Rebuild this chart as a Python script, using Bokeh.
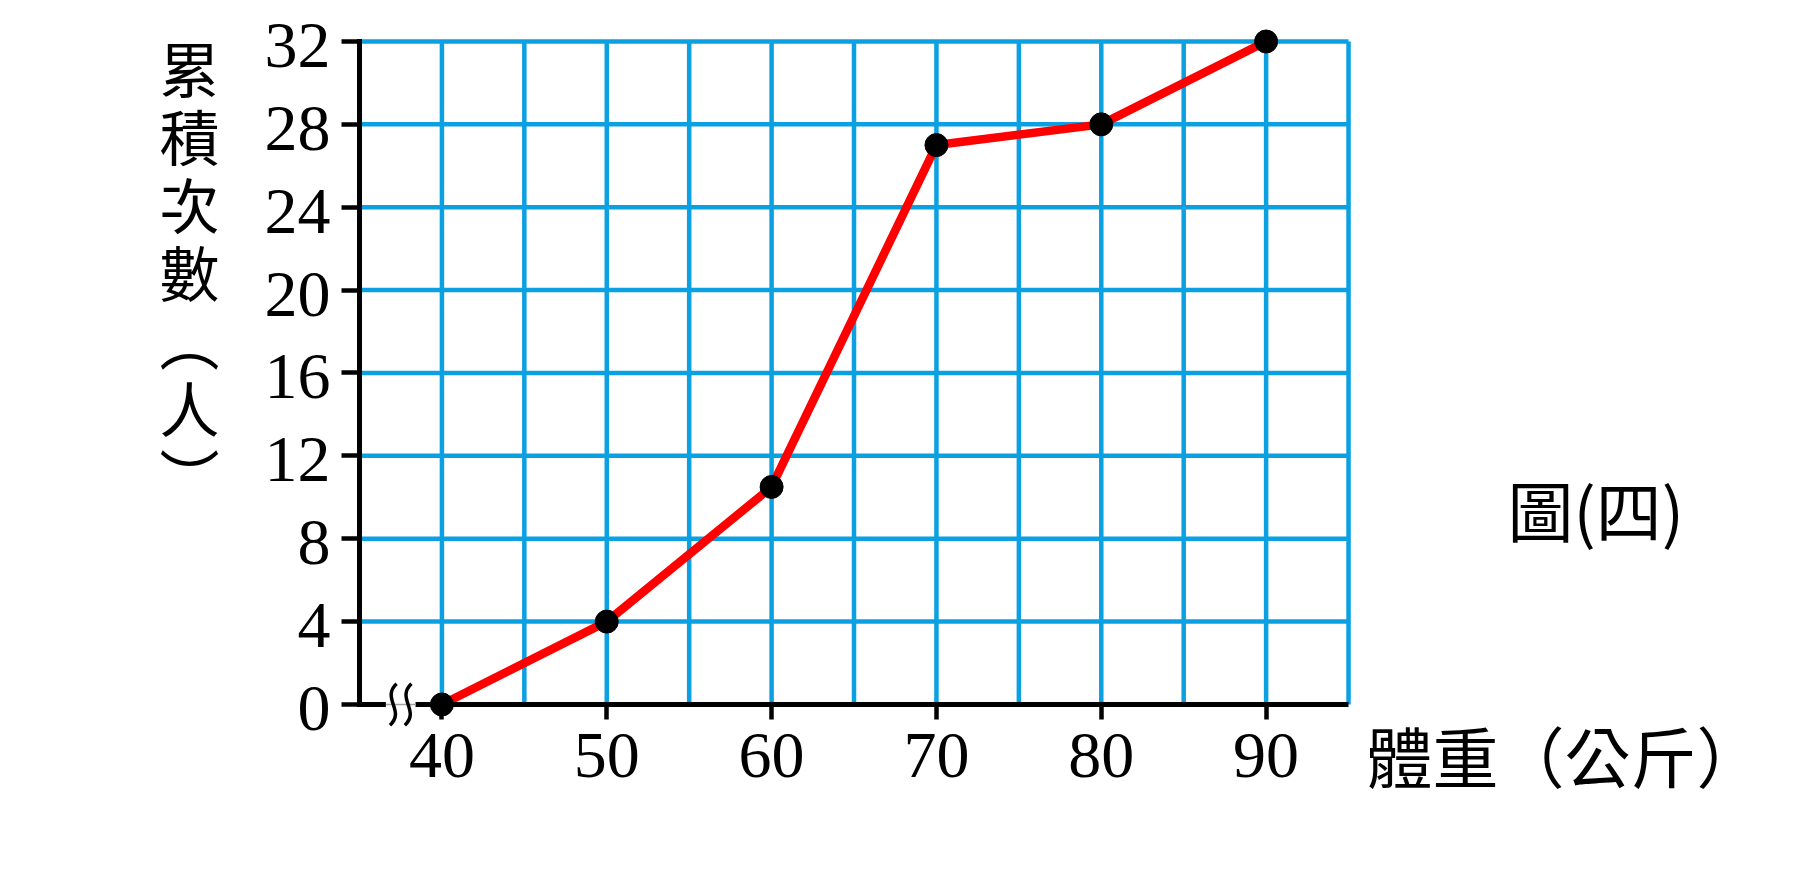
from bokeh.plotting import figure
from bokeh.models import Range1d, LinearAxis, FixedTicker, LabelSet, Label, ColumnDataSource
from bokeh.embed import file_html
from bokeh.resources import INLINE
from bokeh.core.properties import value

# ---- data ----
weights = [40, 50, 60, 70, 80, 90]
cum_counts = [0, 4, 10.5, 27, 28, 32]
x_ticks = [40, 50, 60, 70, 80, 90]
x_tick_labels = ["40", "50", "60", "70", "80", "90"]
x_grid = [40, 45, 50, 55, 60, 65, 70, 75, 80, 85, 90, 95]
y_ticks = [0, 4, 8, 12, 16, 20, 24, 28, 32]
y_tick_labels = ["0", "4", "8", "12", "16", "20", "24", "28", "32"]
x_title = "體重（公斤）"
y_title = "累積次數︵人︶"
fig_caption = "圖(四)"

X_MIN, X_MAX = 35, 95
Y_MIN, Y_MAX = 0, 32
break_x = [37.05, 37.95]

GRID = "#0BA0E2"
SERIF = "Liberation Serif"
CJK = "Noto Sans CJK TC"

# the frame covers the whole canvas so nothing is clipped
p = figure(x_range=Range1d(13.221, 121.448), y_range=Range1d(-7.240, 33.978),
           width=1784, height=854, min_border=0,
           x_axis_type=None, y_axis_type=None,
           output_backend="svg", toolbar_location=None)
p.outline_line_color = None
p.background_fill_color = "white"
p.border_fill_color = "white"

# grid
p.segment(x0=x_grid, y0=[Y_MIN] * len(x_grid), x1=x_grid, y1=[Y_MAX] * len(x_grid),
          line_color=GRID, line_width=4.5)
hy = y_ticks[1:]
p.segment(x0=[X_MIN] * len(hy), y0=hy, x1=[X_MAX] * len(hy), y1=hy,
          line_color=GRID, line_width=4.5)

# axes
xaxis = LinearAxis(fixed_location=Y_MIN, bounds=(X_MIN, X_MAX), ticker=FixedTicker(ticks=x_ticks),
                   major_label_overrides={t: s for t, s in zip(x_ticks, x_tick_labels)})
xaxis.axis_line_width = 5
xaxis.axis_line_color = "black"
xaxis.major_tick_line_width = 4.5
xaxis.major_tick_in = 0
xaxis.major_tick_out = 15
xaxis.minor_tick_line_color = None
xaxis.major_label_text_font = SERIF
xaxis.major_label_text_font_size = "66px"
xaxis.major_label_text_color = "black"
xaxis.major_label_standoff = 15
p.add_layout(xaxis, "below")

yaxis = LinearAxis(fixed_location=X_MIN, bounds=(Y_MIN, Y_MAX), ticker=FixedTicker(ticks=y_ticks))
yaxis.axis_line_width = 5
yaxis.axis_line_color = "black"
yaxis.axis_line_cap = "square"
yaxis.major_tick_line_width = 4.5
yaxis.major_tick_in = 0
yaxis.major_tick_out = 18
yaxis.minor_tick_line_color = None
yaxis.major_label_text_color = None
yaxis.major_label_text_font_size = "1px"
p.add_layout(yaxis, "left")

ysrc = ColumnDataSource(dict(x=[X_MIN] * len(y_ticks), y=y_ticks, t=y_tick_labels))
p.add_layout(LabelSet(x="x", y="y", text="t", source=ysrc, x_offset=-29, y_offset=-4,
                      text_align="right", text_baseline="middle",
                      text_font=value(SERIF), text_font_size="66px", text_color="black"))

# data line and points
p.line(weights, cum_counts, line_color="#FF0000", line_width=8.5, line_join="round")
p.scatter(weights, cum_counts, size=23, color="black")

# axis break marks
p.segment(x0=[36.6], y0=[0], x1=[38.4], y1=[0], line_color="white",
          line_width=8, level="overlay")
p.segment(x0=[36.6], y0=[0], x1=[38.4], y1=[0], line_color="#A0A0A0",
          line_width=1.5, level="overlay")
p.bezier(x0=[b + 0.2 for b in break_x], y0=[1.0, 1.0],
         x1=[b - 0.2 for b in break_x], y1=[-1.0, -1.0],
         cx0=[b - 0.75 for b in break_x], cy0=[0.3, 0.3],
         cx1=[b + 0.75 for b in break_x], cy1=[-0.3, -0.3],
         line_color="black", line_width=3.5, level="overlay")

# titles
p.add_layout(Label(x=X_MIN, y=Y_MAX, x_offset=-170, y_offset=18, text="\n".join(y_title),
                   text_align="center", text_baseline="top", text_line_height=0.78,
                   text_font=CJK, text_font_size="60px", text_color="black"))
p.add_layout(Label(x=X_MAX, y=Y_MIN, x_offset=18, y_offset=-50, text=x_title,
                   text_align="left", text_baseline="middle",
                   text_font=CJK, text_font_size="66px", text_color="black"))
p.add_layout(Label(x=110, y=9, y_offset=10, text=fig_caption, text_align="center",
                   text_baseline="middle",
                   text_font=CJK, text_font_size="66px", text_color="black"))

open("out.html", "w").write(file_html(p, INLINE))
